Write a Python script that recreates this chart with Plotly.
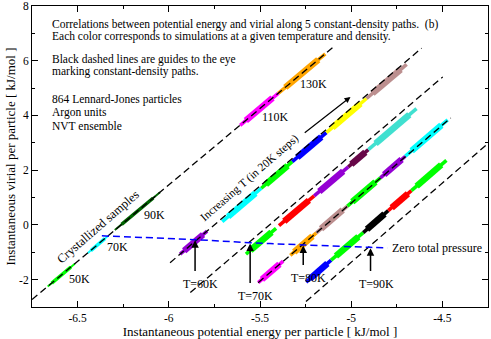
import plotly.graph_objects as go

# constant-density guide lines (start / end points)
path_x0 = [-6.75, -5.993, -5.882, -5.51, -5.248]
path_y0 = [-2.73, -1.38, -2.47, -2.11, -2.80]
path_x1 = [-5.098, -4.614, -4.498, -4.454, -4.246]
path_y1 = [6.50, 6.46, 5.41, 3.91, 3.00]

# simulation clouds (one per temperature/density), start and end along the path
cluster_color = ["#00ff00", "#00ffff", "#006400", "#ff00ff", "#ffa500",
                 "#9400d3", "#00ffff", "#00ff00", "#0000ff", "#ffff00", "#bc8f8f",
                 "#00ff00", "#ff0000", "#9400d3", "#670748", "#40e0d0",
                 "#ff00ff", "#ffa500", "#bc8f8f", "#00ff00", "#9400d3", "#00ffff",
                 "#0000ff", "#00ff00", "#000000", "#ff0000", "#00ff00"]
cluster_x0 = [-6.664, -6.444, -6.296, -5.609, -5.400,
              -5.938, -5.707, -5.493, -5.323, -5.136, -4.916,
              -5.577, -5.396, -5.203, -5.016, -4.906,
              -5.510, -5.334, -5.191, -5.021, -4.840, -4.703,
              -5.247, -5.110, -4.934, -4.797, -4.670]
cluster_y0 = [-2.25, -1.03, -0.19, 3.64, 4.81,
              -1.07, 0.12, 1.34, 2.31, 3.37, 4.62,
              -1.07, -0.03, 1.06, 2.12, 2.75,
              -2.11, -1.11, -0.29, 0.69, 1.72, 2.51,
              -2.09, -1.29, -0.28, 0.52, 1.25]
cluster_x1 = [-6.515, -6.334, -6.048, -5.400, -5.142,
              -5.790, -5.493, -5.323, -5.136, -4.916, -4.696,
              -5.412, -5.203, -5.016, -4.906, -4.642,
              -5.373, -5.191, -5.021, -4.840, -4.703, -4.471,
              -5.110, -4.934, -4.797, -4.670, -4.478]
cluster_y1 = [-1.42, -0.41, 1.19, 4.81, 6.25,
              -0.23, 1.34, 2.31, 3.37, 4.62, 5.87,
              -0.13, 1.06, 2.12, 2.75, 4.25,
              -1.32, -0.29, 0.69, 1.72, 2.51, 3.84,
              -1.29, -0.28, 0.52, 1.25, 2.36]

# zero total pressure curve
zero_p_x = [-6.367, -5.856, -5.554, -5.263, -4.894, -4.80]
zero_p_y = [-0.40, -0.54, -0.65, -0.73, -0.82, -0.84]

# state points marked with arrows
state_label = ["T=60K", "T=70K", "T=80K", "T=90K"]
state_x = [-5.856, -5.554, -5.263, -4.894]
state_y = [-0.56, -0.68, -0.75, -0.85]
label_y = [-2.16, -2.60, -1.94, -2.16]

# temperature labels of the crystallized / top path
temp_label = ["50K", "70K", "90K", "110K", "130K"]
temp_x = [-6.488, -6.284, -6.081, -5.417, -5.208]
temp_y = [-1.967, -0.80, 0.37, 3.945, 5.15]

FONT = "Liberation Serif, Times New Roman, serif"

fig = go.Figure()

# each cloud: a thin full-length core plus a thicker middle part -> tapered look
for i in range(len(cluster_color)):
    x0, y0, x1, y1 = cluster_x0[i], cluster_y0[i], cluster_x1[i], cluster_y1[i]
    wide = 3.5 if i < 3 else 6.5
    fig.add_trace(go.Scatter(x=[x0, x1], y=[y0, y1], mode="lines",
                             line=dict(color=cluster_color[i], width=wide * 0.55),
                             hoverinfo="skip"))
    fig.add_trace(go.Scatter(x=[x0 + 0.15 * (x1 - x0), x1 - 0.15 * (x1 - x0)],
                             y=[y0 + 0.15 * (y1 - y0), y1 - 0.15 * (y1 - y0)],
                             mode="lines",
                             line=dict(color=cluster_color[i], width=wide),
                             hoverinfo="skip"))

for i in range(len(path_x0)):
    fig.add_trace(go.Scatter(
        x=[path_x0[i], path_x1[i]], y=[path_y0[i], path_y1[i]],
        mode="lines", line=dict(color="black", width=1.3, dash="7px,4px"),
        hoverinfo="skip"))

fig.add_trace(go.Scatter(
    x=zero_p_x, y=zero_p_y, mode="lines", line_shape="spline",
    line=dict(color="#0000ff", width=1.5, dash="7px,4px"), hoverinfo="skip"))

notes = [
    ("Correlations between potential energy and virial along 5 constant-density paths.  (b)", 7.33),
    ("Each color corresponds to simulations at a given temperature and density.", 6.90),
    ("Black dashed lines are guides to the eye", 6.03),
    ("marking constant-density paths.", 5.59),
    ("864 Lennard-Jones particles", 4.57),
    ("Argon units", 4.09),
    ("NVT ensemble", 3.62),
]
for txt, yy in notes:
    fig.add_annotation(x=-6.653, y=yy, text=txt, showarrow=False,
                       xanchor="left", yanchor="middle",
                       font=dict(family=FONT, size=11.5, color="black"))

for lab, xx, yy in zip(temp_label, temp_x, temp_y):
    fig.add_annotation(x=xx, y=yy, text=lab, showarrow=False,
                       font=dict(family=FONT, size=12, color="black"))

for lab, xx, yy, ly in zip(state_label, state_x, state_y, label_y):
    fig.add_annotation(x=xx, y=yy, ax=xx, ay=ly + 0.42, axref="x", ayref="y",
                       text="", showarrow=True, arrowhead=2, arrowsize=1,
                       arrowwidth=1.5, arrowcolor="black")
    fig.add_annotation(x=xx + 0.03, y=ly, text=lab, showarrow=False,
                       font=dict(family=FONT, size=12, color="black"))

fig.add_annotation(x=-4.785, y=-0.836, text="Zero total pressure", showarrow=False,
                   xanchor="left", font=dict(family=FONT, size=12, color="black"))

fig.add_annotation(x=-6.389, y=-0.07, text="Crystallized samples", showarrow=False,
                   textangle=-41, font=dict(family=FONT, size=12.5, color="black"))
fig.add_annotation(x=-5.554, y=1.72, text="Increasing T (in 20K steps)", showarrow=False,
                   textangle=-41, font=dict(family=FONT, size=11.5, color="black"))
fig.add_annotation(x=-5.004, y=4.675, ax=-5.263, ay=3.325, axref="x", ayref="y",
                   text="", showarrow=True, arrowhead=2, arrowsize=1,
                   arrowwidth=1.2, arrowcolor="black")

axis_common = dict(showline=True, linecolor="black", linewidth=1, mirror="allticks",
                   ticks="inside", ticklen=6, tickwidth=1, tickcolor="black",
                   showgrid=False, zeroline=False, automargin=False,
                   tickfont=dict(family=FONT, size=11.5, color="black"))

fig.update_layout(
    width=491, height=339,
    margin=dict(l=32, r=3, t=6, b=32),
    plot_bgcolor="white", paper_bgcolor="white",
    showlegend=False,
    xaxis=dict(range=[-6.75, -4.25],
               tickvals=[-6.5, -6, -5.5, -5, -4.5],
               ticktext=["-6.5", "-6", "-5.5", "-5", "-4.5"],
               minor=dict(ticks="inside", ticklen=3, dtick=0.25, tick0=-6.5, tickcolor="black"),
               title=dict(text="Instantaneous potential energy per particle [ kJ/mol ]",
                          font=dict(family=FONT, size=13, color="black"), standoff=0),
               **axis_common),
    yaxis=dict(range=[-3, 8],
               tickvals=[-2, 0, 2, 4, 6, 8],
               ticktext=["-2", "0", "2", "4", "6", "8"],
               minor=dict(ticks="inside", ticklen=3, dtick=1, tick0=0, tickcolor="black"),
               title=dict(text="Instantaneous virial per particle [ kJ/mol ]",
                          font=dict(family=FONT, size=13, color="black"), standoff=0),
               **axis_common),
)

fig.write_html("out.html", config={"displayModeBar": False},
               post_script="document.body.style.margin='0';")
